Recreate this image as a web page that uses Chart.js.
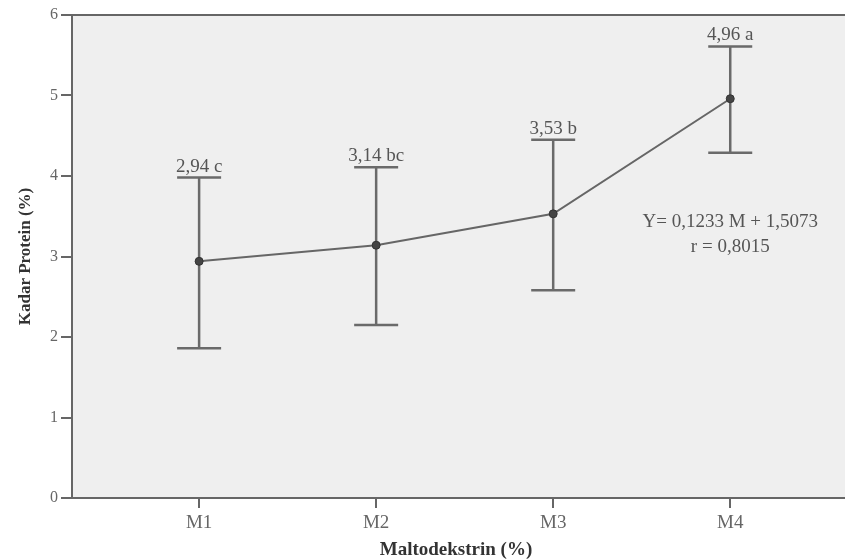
<!DOCTYPE html>
<html>
<head>
<meta charset="utf-8">
<script src="https://cdn.jsdelivr.net/npm/chart.js@4"></script>
<style>
  body { margin: 0; background: #fff; }
  #wrap { width: 845px; height: 560px; }
</style>
</head>
<body>
<div id="wrap"><canvas id="chart" width="845" height="560"></canvas></div>
<script>
// data
const categories = ["M1", "M2", "M3", "M4"];
const meanProtein = [2.94, 3.14, 3.53, 4.96];
const upperProtein = [3.98, 4.11, 4.45, 5.61];
const lowerProtein = [1.86, 2.15, 2.58, 4.29];
const notation = ["2,94 c", "3,14 bc", "3,53 b", "4,96 a"];
const regressionText = ["Y= 0,1233 M + 1,5073", "r = 0,8015"];
const regressionPos = [[4, 3.43], [4, 3.12]];
const yTicks = [0, 1, 2, 3, 4, 5, 6];

const serif = "'Liberation Serif', 'DejaVu Serif', serif";

// plot background, top border; the frame runs on to the canvas edge (cropped figure)
const plotBg = {
    id: "plotBg",
    beforeDraw(chart) {
        const ctx = chart.ctx, a = chart.chartArea;
        ctx.save();
        ctx.fillStyle = "#efefef";
        ctx.fillRect(a.left, a.top, chart.width - a.left, a.bottom - a.top);
        ctx.strokeStyle = "#666";
        ctx.lineWidth = 2;
        ctx.beginPath();
        ctx.moveTo(a.left, a.top);
        ctx.lineTo(chart.width, a.top);
        ctx.stroke();
        ctx.restore();
    },
    afterDraw(chart) {
        const ctx = chart.ctx, a = chart.chartArea;
        ctx.save();
        ctx.strokeStyle = "#666";
        ctx.lineWidth = 2;
        ctx.beginPath();
        ctx.moveTo(a.right - 1, a.bottom);
        ctx.lineTo(chart.width, a.bottom);
        ctx.stroke();
        ctx.restore();
    }
};

// error bars, letter notation and the regression note
const errorBars = {
    id: "errorBars",
    beforeDatasetsDraw(chart) {
        const ctx = chart.ctx;
        const xs = chart.scales.x, ys = chart.scales.y;
        ctx.save();
        ctx.strokeStyle = "#6a6a6a";
        ctx.lineWidth = 2.5;
        for (let i = 0; i < categories.length; i++) {
            const x = xs.getPixelForValue(i + 1);
            const yt = ys.getPixelForValue(upperProtein[i]);
            const yb = ys.getPixelForValue(lowerProtein[i]);
            ctx.beginPath();
            ctx.moveTo(x, yt); ctx.lineTo(x, yb);
            ctx.moveTo(x - 22, yt); ctx.lineTo(x + 22, yt);
            ctx.moveTo(x - 22, yb); ctx.lineTo(x + 22, yb);
            ctx.stroke();
        }
        ctx.fillStyle = "#555";
        ctx.font = "19px " + serif;
        ctx.textAlign = "center";
        ctx.textBaseline = "alphabetic";
        for (let i = 0; i < categories.length; i++) {
            const x = xs.getPixelForValue(i + 1);
            const yt = ys.getPixelForValue(upperProtein[i]);
            ctx.fillText(notation[i], x, yt - 6);
        }
        ctx.textBaseline = "middle";
        for (let i = 0; i < regressionText.length; i++) {
            ctx.fillText(regressionText[i],
                xs.getPixelForValue(regressionPos[i][0]),
                ys.getPixelForValue(regressionPos[i][1]));
        }
        ctx.restore();
    }
};

new Chart("chart", {
    type: "line",
    data: {
        datasets: [{
            data: categories.map((c, i) => ({ x: i + 1, y: meanProtein[i] })),
            borderColor: "#666",
            borderWidth: 2,
            pointRadius: 4,
            pointBackgroundColor: "#444",
            pointBorderColor: "#333",
            pointBorderWidth: 1,
            lineTension: 0,
            fill: false
        }]
    },
    options: {
        responsive: false,
        animation: false,
        layout: { padding: { top: 15, right: 0, bottom: 0, left: 0 } },
        plugins: { legend: { display: false }, tooltip: { enabled: false } },
        scales: {
            x: {
                type: "linear",
                min: 0.282,
                max: 4.62,
                afterBuildTicks: s => { s.ticks = categories.map((c, i) => ({ value: i + 1 })); },
                afterFit: s => { s.height = 62; },
                border: { color: "#666", width: 2 },
                grid: { drawOnChartArea: false, color: "#666", lineWidth: 2, tickLength: 10 },
                ticks: {
                    callback: v => categories[v - 1],
                    color: "#666",
                    font: { family: serif, size: 19 },
                    padding: 4
                },
                title: {
                    display: true,
                    text: "Maltodekstrin (%)",
                    color: "#333",
                    font: { family: serif, size: 19, weight: "bold", lineHeight: 1 },
                    padding: { top: 0, bottom: 0 }
                }
            },
            y: {
                min: 0,
                max: 6,
                afterBuildTicks: s => { s.ticks = yTicks.map(v => ({ value: v })); },
                afterFit: s => { s.width = 72; },
                border: { color: "#666", width: 2 },
                grid: { drawOnChartArea: false, color: "#666", lineWidth: 2, tickLength: 11 },
                ticks: {
                    color: "#666",
                    font: { family: serif, size: 16 },
                    padding: 3
                },
                title: {
                    display: true,
                    text: "Kadar Protein (%)",
                    color: "#333",
                    font: { family: serif, size: 17, weight: "bold" },
                    padding: { top: 15, bottom: 0 }
                }
            }
        }
    },
    plugins: [plotBg, errorBars]
});
</script>
</body>
</html>
